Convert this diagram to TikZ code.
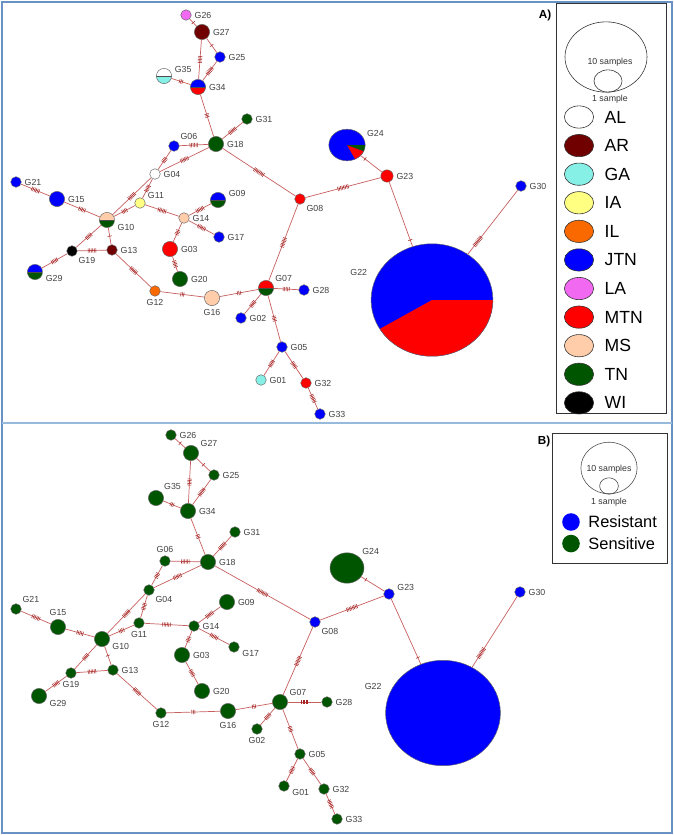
\documentclass[tikz,border=0pt]{standalone}
\usepackage{fontspec}
\setsansfont{Liberation Sans}
\definecolor{edgered}{RGB}{200,95,95}
\definecolor{tickred}{RGB}{165,35,35}
\definecolor{frameblue}{RGB}{105,145,195}
\definecolor{sepblue}{RGB}{150,185,220}
\definecolor{locAL}{RGB}{255,255,255}
\definecolor{locAR}{RGB}{112,0,0}
\definecolor{locGA}{RGB}{135,240,230}
\definecolor{locIA}{RGB}{255,255,130}
\definecolor{locIL}{RGB}{250,105,0}
\definecolor{locJTN}{RGB}{0,0,255}
\definecolor{locLA}{RGB}{240,105,240}
\definecolor{locMTN}{RGB}{255,0,0}
\definecolor{locMS}{RGB}{255,205,170}
\definecolor{locTN}{RGB}{0,85,0}
\definecolor{locWI}{RGB}{0,0,0}
\tikzset{every picture/.style={/utils/exec={\sffamily}}}
\usetikzlibrary{positioning}
\usetikzlibrary{shapes.geometric,decorations.markings}

\begin{document}
\begin{tikzpicture}[x=0.03cm, y=-0.03cm,
    hap/.style={circle, draw=black!60, line width=0.4pt, inner sep=0pt, minimum size=9pt},
    hapm/.style={hap, minimum size=13pt},
    hapx/.style={ellipse, draw=black!60, line width=0.4pt, inner sep=0pt},
    every label/.style={font=\fontsize{7.5}{8}\selectfont, text=black!75, inner sep=1pt},
    label distance=1.5pt,
    halves/.style 2 args={path picture={
      \fill[#1] (path picture bounding box.north west) rectangle (path picture bounding box.east);
      \fill[#2] (path picture bounding box.west) rectangle (path picture bounding box.south east);
      \draw[black!70, line width=0.4pt] (path picture bounding box.west) -- (path picture bounding box.east);}},
    link/.style={draw=edgered, line width=0.6pt},
    mutp/.style 2 args={postaction={decorate, decoration={markings,
      mark=at position #2 with {\foreach \k in {1,...,#1} {\draw[tickred, line width=0.45pt] ({(\k-(#1+1)/2)*1.3pt},-1.8pt) -- ++(0pt,3.6pt);}}}}},
    mut/.style={mutp={#1}{0.5}},
    legbox/.style={draw=black!80, line width=0.6pt},
    legdot/.style={ellipse, draw=black!80, line width=0.5pt, minimum width=25pt, minimum height=19pt, inner sep=0pt},
    legtxt/.style={font=\fontsize{15}{16}\selectfont, inner sep=0pt},
    small/.style={font=\fontsize{7.5}{8}\selectfont, text=black!80, inner sep=0pt},
    tag/.style={font=\bfseries\fontsize{10}{12}\selectfont, inner sep=0pt}]
  \useasboundingbox (0,0) rectangle (674,835);

  % frame
  \draw[frameblue, line width=2pt] (2,2) rectangle (672,833);
  \draw[sepblue, line width=2pt] (2,423) -- (672,423);

  % A) haplotypes by location
  \node[hap, fill=locLA, label=right:G26] (a26) at (186,15) {};
  \node[hapm, fill=locAR, label=right:G27] (a27) at (202,32) {};
  \node[hap, fill=locJTN, label=right:G25] (a25) at (220,57) {};
  \node[hapm, halves={locAL}{locGA}, label=10:G35] (a35) at (164,76) {};
  \node[hapm, halves={locJTN}{locMTN}, label=right:G34] (a34) at (198,87) {};
  \node[hap, fill=locTN, label=right:G31] (a31) at (247,119) {};
  \node[hap, fill=locJTN, label=above right:G06] (a06) at (174,146) {};
  \node[hapm, fill=locTN, label=right:G18] (a18) at (216,144) {};
  \node[hap, fill=locAL, label=right:G04] (a04) at (155,174) {};
  \node[hap, fill=locJTN, label=right:G21] (a21) at (16,182) {};
  \node[hapm, fill=locJTN, label=right:G15] (a15) at (57,199) {};
  \node[hap, fill=locIA, label=25:G11] (a11) at (140,203) {};
  \node[hapm, halves={locJTN}{locTN}, label=10:G09] (a09) at (218,200) {};
  \node[hap, fill=locMTN, label=below right:G08] (a08) at (300,199) {};
  \node[hapm, halves={locMS}{locTN}, label=-15:G10] (a10) at (107,220) {};
  \node[hap, fill=locMS, label=right:G14] (a14) at (184,218) {};
  \node[hap, fill=locJTN, label=right:G17] (a17) at (219,237) {};
  \node[hap, fill=locWI, label=below right:G19] (a19) at (72,251) {};
  \node[hap, fill=locAR, label=right:G13] (a13) at (112,250) {};
  \node[hapm, fill=locMTN, label=right:G03] (a03) at (170,249) {};
  \node[hapm, halves={locJTN}{locTN}, label=-10:G29] (a29) at (35,272) {};
  \node[hapm, fill=locTN, label=right:G20] (a20) at (180,279) {};
  \node[hap, fill=locIL, label=below:G12] (a12) at (155,291) {};
  \node[hapm, fill=locMS, label=below:G16] (a16) at (212,298) {};
  \node[hapm, halves={locMTN}{locTN}, label=35:G07] (a07) at (266,288) {};
  \node[hap, fill=locJTN, label=right:G28] (a28) at (304,290) {};
  \node[hap, fill=locJTN, label=right:G02] (a02) at (241,318) {};
  \node[hap, fill=locJTN, label=right:G05] (a05) at (282,347) {};
  \node[hap, fill=locGA, label=right:G01] (a01) at (261,380) {};
  \node[hap, fill=locMTN, label=right:G32] (a32) at (306,383) {};
  \node[hap, fill=locJTN, label=right:G33] (a33) at (320,414) {};
  \node[hapx, minimum width=31pt, minimum height=27pt, fill=locJTN, label=20:G24,
    path picture={
      \fill[locMTN] (path picture bounding box.center) -- ++(-60:2cm) arc[start angle=-60, end angle=-20, radius=2cm] -- cycle;
      \fill[locTN] (path picture bounding box.center) -- ++(-20:2cm) arc[start angle=-20, end angle=0, radius=2cm] -- cycle;}] (a24) at (347,145) {};
  \node[hap, fill=locMTN, minimum size=10.5pt, label=right:G23] (a23) at (387,176) {};
  \node[hap, fill=locJTN, label=right:G30] (a30) at (521,186) {};
  \node[hapx, minimum width=104pt, minimum height=96pt, fill=locJTN, label={[label distance=6pt]160:G22},
    path picture={
      \fill[locMTN] (path picture bounding box.center) -- ++(209:3cm) arc[start angle=209, end angle=360, radius=3cm] -- cycle;}] (a22) at (432,300) {};

  % B) haplotypes by phenotype
  \node[hap, fill=locTN, label=right:G26] (b26) at (171,435) {};
  \node[hapm, fill=locTN, label=30:G27] (b27) at (191,453) {};
  \node[hap, fill=locTN, label=right:G25] (b25) at (214,475) {};
  \node[hapm, fill=locTN, label=above right:G35] (b35) at (156,498) {};
  \node[hapm, fill=locTN, label=right:G34] (b34) at (188,511) {};
  \node[hap, fill=locTN, label=right:G31] (b31) at (235,532) {};
  \node[hap, fill=locTN, label=above:G06] (b06) at (165,561) {};
  \node[hapm, fill=locTN, label=right:G18] (b18) at (208,562) {};
  \node[hap, fill=locTN, label=below right:G04] (b04) at (149,590) {};
  \node[hap, fill=locTN, label=above right:G21] (b21) at (16,609) {};
  \node[hapm, fill=locTN, label=right:G09] (b09) at (227,602) {};
  \node[hap, fill=locJTN, label=below right:G08] (b08) at (315,622) {};
  \node[hapm, fill=locTN, label=above:G15] (b15) at (58,627) {};
  \node[hapm, fill=locTN, label=-20:G10] (b10) at (102,639) {};
  \node[hap, fill=locTN, label=below:G11] (b11) at (139,623) {};
  \node[hap, fill=locTN, label=right:G14] (b14) at (194,626) {};
  \node[hap, fill=locTN, label=-15:G17] (b17) at (234,647) {};
  \node[hapm, fill=locTN, label=right:G03] (b03) at (182,655) {};
  \node[hap, fill=locTN, label=below:G19] (b19) at (71,673) {};
  \node[hap, fill=locTN, label=right:G13] (b13) at (113,670) {};
  \node[hapm, fill=locTN, label=-15:G29] (b29) at (39,696) {};
  \node[hapm, fill=locTN, label=right:G20] (b20) at (202,691) {};
  \node[hap, fill=locTN, label=below:G12] (b12) at (161,713) {};
  \node[hapm, fill=locTN, label=below:G16] (b16) at (228,711) {};
  \node[hapm, fill=locTN, label=30:G07] (b07) at (280,702) {};
  \node[hap, fill=locTN, label=below:G02] (b02) at (257,729) {};
  \node[hap, fill=locTN, label=right:G05] (b05) at (300,754) {};
  \node[hap, fill=locTN, label=-15:G01] (b01) at (284,786) {};
  \node[hap, fill=locTN, label=right:G32] (b32) at (324,789) {};
  \node[hap, fill=locTN, label=right:G28] (b28) at (327,702) {};
  \node[hap, fill=locTN, label=right:G33] (b33) at (337,819) {};
  \node[hapx, minimum width=29pt, minimum height=26pt, fill=locTN, label=40:G24] (b24) at (347,568) {};
  \node[hap, fill=locJTN, label=15:G23] (b23) at (389,594) {};
  \node[hap, fill=locJTN, label=right:G30] (b30) at (520,592) {};
  \node[hapx, minimum width=98pt, minimum height=90pt, fill=locJTN, label={[label distance=6pt]160:G22}] (b22) at (443,713) {};

  % mutational steps (same network in both panels)
  \foreach \p in {a,b} {
    \draw[link, mut=1] (\p26) -- (\p27);
    \draw[link, mut=1] (\p27) -- (\p25);
    \draw[link, mut=5] (\p27) -- (\p34);
    \draw[link, mut=6] (\p25) -- (\p34);
    \draw[link, mut=3] (\p35) -- (\p34);
    \draw[link, mut=3] (\p34) -- (\p18);
    \draw[link, mut=6] (\p31) -- (\p18);
    \draw[link, mut=6] (\p06) -- (\p18);
    \draw[link, mut=6] (\p04) -- (\p18);
    \draw[link, mut=4] (\p04) -- (\p06);
    \draw[link, mut=6] (\p04) -- (\p10);
    \draw[link, mut=5] (\p04) -- (\p11);
    \draw[link, mut=6] (\p21) -- (\p15);
    \draw[link, mut=5] (\p15) -- (\p10);
    \draw[link, mut=4] (\p11) -- (\p10);
    \draw[link, mut=6] (\p11) -- (\p14);
    \draw[link, mut=6] (\p09) -- (\p14);
    \draw[link, mut=6] (\p14) -- (\p17);
    \draw[link, mut=4] (\p14) -- (\p03);
    \draw[link, mut=5] (\p03) -- (\p20);
    \draw[link, mut=5] (\p10) -- (\p19);
    \draw[link, mut=1] (\p10) -- (\p13);
    \draw[link, mut=6] (\p19) -- (\p13);
    \draw[link, mut=5] (\p19) -- (\p29);
    \draw[link, mut=6] (\p13) -- (\p12);
    \draw[link, mut=3] (\p12) -- (\p16);
    \draw[link, mut=3] (\p16) -- (\p07);
    \draw[link, mut=5] (\p07) -- (\p28);
    \draw[link, mut=5] (\p07) -- (\p02);
    \draw[link, mut=4] (\p07) -- (\p05);
    \draw[link, mut=7] (\p07) -- (\p08);
    \draw[link, mut=5] (\p05) -- (\p01);
    \draw[link, mut=5] (\p05) -- (\p32);
    \draw[link, mut=6] (\p32) -- (\p33);
    \draw[link, mut=8] (\p18) -- (\p08);
    \draw[link, mut=8] (\p08) -- (\p23);
    \draw[link, mutp={1}{0.8}] (\p23) -- (\p24);
    \draw[link, mutp={1}{0.9}] (\p23) -- (\p22);
    \draw[link, mutp={8}{0.8}] (\p30) -- (\p22);
  }

  % legend A
  \draw[legbox] (556,3) rectangle (666,413);
  \node[tag] (tagA) at (545,15) {A)};
  \node[ellipse, draw=black!80, line width=0.5pt, minimum width=70pt, minimum height=60pt, inner sep=0pt] (tenA) at (606,57) {};
  \node[ellipse, draw=black!80, line width=0.5pt, minimum width=24pt, minimum height=19pt, inner sep=0pt] (oneA) at (608,81) {};
  \node[small] (tenAtxt) at (610,62) {10 samples};
  \node[small] (oneAtxt) at (610,99) {1 sample};
  \node[legdot, fill=locAL] (kAL) at (579,117) {};
  \node[legdot, fill=locAR, below=4.9pt of kAL] (kAR) {};
  \node[legdot, fill=locGA, below=4.9pt of kAR] (kGA) {};
  \node[legdot, fill=locIA, below=4.9pt of kGA] (kIA) {};
  \node[legdot, fill=locIL, below=4.9pt of kIA] (kIL) {};
  \node[legdot, fill=locJTN, below=4.9pt of kIL] (kJTN) {};
  \node[legdot, fill=locLA, below=4.9pt of kJTN] (kLA) {};
  \node[legdot, fill=locMTN, below=4.9pt of kLA] (kMTN) {};
  \node[legdot, fill=locMS, below=4.9pt of kMTN] (kMS) {};
  \node[legdot, fill=locTN, below=4.9pt of kMS] (kTN) {};
  \node[legdot, fill=locWI, below=4.9pt of kTN] (kWI) {};
  \node[legtxt, right=9pt of kAL] (tAL) {AL};
  \node[legtxt, right=9pt of kAR] (tAR) {AR};
  \node[legtxt, right=9pt of kGA] (tGA) {GA};
  \node[legtxt, right=9pt of kIA] (tIA) {IA};
  \node[legtxt, right=9pt of kIL] (tIL) {IL};
  \node[legtxt, right=9pt of kJTN] (tJTN) {JTN};
  \node[legtxt, right=9pt of kLA] (tLA) {LA};
  \node[legtxt, right=9pt of kMTN] (tMTN) {MTN};
  \node[legtxt, right=9pt of kMS] (tMS) {MS};
  \node[legtxt, right=9pt of kTN] (tTN) {TN};
  \node[legtxt, right=9pt of kWI] (tWI) {WI};

  % legend B
  \draw[legbox] (552,433) rectangle (667,563);
  \node[tag] (tagB) at (544,441) {B)};
  \node[ellipse, draw=black!70, line width=0.5pt, minimum width=48pt, minimum height=44pt, inner sep=0pt] (tenB) at (609,468) {};
  \node[ellipse, draw=black!70, line width=0.5pt, minimum width=16pt, minimum height=14pt, inner sep=0pt] (oneB) at (609,486) {};
  \node[small] (tenBtxt) at (609,469) {10 samples};
  \node[small] (oneBtxt) at (609,502) {1 sample};
  \node[circle, fill=locJTN, minimum size=15pt, inner sep=0pt] (kRes) at (571,522) {};
  \node[circle, fill=locTN, minimum size=15pt, inner sep=0pt, below=3pt of kRes] (kSen) {};
  \node[font=\fontsize{14}{15}\selectfont, inner sep=0pt, right=7pt of kRes] (tRes) {Resistant};
  \node[font=\fontsize{14}{15}\selectfont, inner sep=0pt, right=7pt of kSen] (tSen) {Sensitive};
\end{tikzpicture}
\end{document}
